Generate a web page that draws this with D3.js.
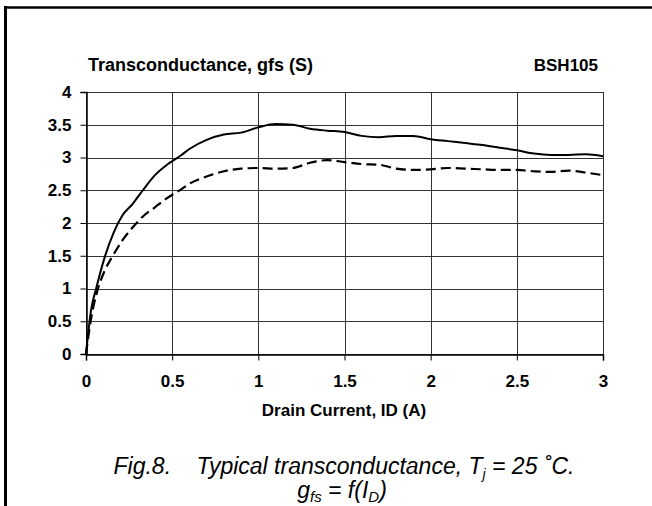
<!DOCTYPE html>
<html>
<head>
<meta charset="utf-8">
<script src="https://cdn.jsdelivr.net/npm/d3@7"></script>
<style>
  body { margin: 0; background: #fff; }
  svg { display: block; font-family: "Liberation Sans", Arial, sans-serif; }
</style>
</head>
<body>
<div class="chart"></div>
<script>
// drain current (A)
var drainCurrent = [0, 0.03, 0.06, 0.11, 0.16, 0.21, 0.27, 0.33, 0.4, 0.47, 0.55, 0.6, 0.7, 0.8, 0.9, 1.0,
  1.1, 1.2, 1.3, 1.4, 1.5, 1.6, 1.7, 1.8, 1.9, 2.0, 2.1, 2.2, 2.3, 2.4, 2.5, 2.6, 2.7, 2.8, 2.9, 3.0];
// gfs (S), solid curve
var gfsSolid = [0, 0.68, 1.01, 1.49, 1.85, 2.11, 2.29, 2.50, 2.73, 2.89, 3.03, 3.13, 3.27, 3.35, 3.38, 3.46,
  3.51, 3.50, 3.44, 3.41, 3.39, 3.33, 3.31, 3.33, 3.33, 3.28, 3.25, 3.22, 3.19, 3.15, 3.11, 3.06, 3.04, 3.04, 3.05, 3.02];
// gfs (S), dashed curve
var gfsDashed = [0, 0.55, 0.91, 1.28, 1.52, 1.73, 1.93, 2.10, 2.24, 2.38, 2.51, 2.60, 2.71, 2.79, 2.83, 2.84,
  2.83, 2.84, 2.92, 2.96, 2.93, 2.90, 2.89, 2.83, 2.81, 2.82, 2.84, 2.83, 2.82, 2.81, 2.81, 2.79, 2.78, 2.80, 2.77, 2.73];

var xTicks = [0, 0.5, 1, 1.5, 2, 2.5, 3];
var yTicks = [0, 0.5, 1, 1.5, 2, 2.5, 3, 3.5, 4];

var width = 652;
var height = 506;
var labelFont = '17px';

var x = d3.scaleLinear().domain([0, 3]).range([86, 603]);
var y = d3.scaleLinear().domain([0, 4]).range([354, 92]);

var svg = d3.select('.chart').append('svg')
  .attr('width', width)
  .attr('height', height);

// page frame (left and top)
svg.append('line').attr('x1', 5.5).attr('x2', 5.5).attr('y1', 6).attr('y2', height)
  .attr('stroke', '#000').attr('stroke-width', 3);
svg.append('line').attr('x1', 4).attr('x2', width).attr('y1', 7.5).attr('y2', 7.5)
  .attr('stroke', '#000').attr('stroke-width', 2.5);

// grid
svg.append('g').selectAll('line')
  .data(yTicks)
  .enter().append('line')
    .attr('x1', x(0)).attr('x2', x(3))
    .attr('y1', d => Math.round(y(d)) + 0.5).attr('y2', d => Math.round(y(d)) + 0.5)
    .attr('stroke', '#333');

svg.append('g').selectAll('line')
  .data(xTicks)
  .enter().append('line')
    .attr('x1', d => Math.round(x(d)) + 0.5).attr('x2', d => Math.round(x(d)) + 0.5)
    .attr('y1', y(4)).attr('y2', y(0))
    .attr('stroke', '#333');

// axes
var yAxis = d3.axisLeft(y).tickValues(yTicks).tickSize(6).tickPadding(9)
  .tickFormat(d3.format('~g'));
var xAxis = d3.axisBottom(x).tickValues(xTicks).tickSize(6).tickPadding(14)
  .tickFormat(d3.format('~g'));

var gy = svg.append('g')
  .attr('transform', `translate(${Math.round(x(0)) + 0.5},0)`)
  .call(yAxis);
var gx = svg.append('g')
  .attr('transform', `translate(0,${Math.round(y(0)) + 0.5})`)
  .call(xAxis);

[gx, gy].forEach(g => {
  g.select('.domain').attr('stroke', '#000').attr('stroke-width', 1.5);
  g.selectAll('.tick line').attr('stroke', '#000');
  g.selectAll('.tick text')
    .attr('fill', '#000')
    .style('font-family', '"Liberation Sans", Arial, sans-serif')
    .style('font-size', labelFont)
    .style('font-weight', 'bold');
});

// curves
var line = d3.line()
  .x((d, i) => x(drainCurrent[i]))
  .y(d => y(d))
  .curve(d3.curveMonotoneX);

svg.append('path')
  .datum(gfsSolid)
  .attr('d', line)
  .attr('fill', 'none')
  .attr('stroke', '#000')
  .attr('stroke-width', 2);

svg.append('path')
  .datum(gfsDashed)
  .attr('d', line)
  .attr('fill', 'none')
  .attr('stroke', '#000')
  .attr('stroke-width', 2.2)
  .attr('stroke-dasharray', '10,5');

// titles
svg.append('text')
  .attr('x', 88).attr('y', 71)
  .style('font-size', '18px').style('font-weight', 'bold')
  .text('Transconductance, gfs (S)');

svg.append('text')
  .attr('x', 598).attr('y', 71)
  .attr('text-anchor', 'end')
  .style('font-size', labelFont).style('font-weight', 'bold')
  .text('BSH105');

svg.append('text')
  .attr('x', 344).attr('y', 416)
  .attr('text-anchor', 'middle')
  .style('font-size', labelFont).style('font-weight', 'bold')
  .text('Drain Current, ID (A)');

// caption
var cap1 = svg.append('text')
  .attr('x', 344).attr('y', 474)
  .attr('text-anchor', 'middle')
  .style('font-size', '23px').style('font-style', 'italic')
  .style('white-space', 'pre');
cap1.append('tspan').text('Fig.8.    Typical transconductance, T');
cap1.append('tspan').attr('dy', 5).style('font-size', '14px').text('j');
cap1.append('tspan').attr('dy', -5).text(' = 25 \u02daC.');

var cap2 = svg.append('text')
  .attr('x', 342).attr('y', 498)
  .attr('text-anchor', 'middle')
  .style('font-size', '23px').style('font-style', 'italic');
cap2.append('tspan').text('g');
cap2.append('tspan').attr('dy', 4).style('font-size', '15px').text('fs');
cap2.append('tspan').attr('dy', -4).text(' = f(I');
cap2.append('tspan').attr('dy', 4).style('font-size', '15px').text('D');
cap2.append('tspan').attr('dy', -4).text(')');
</script>
</body>
</html>
